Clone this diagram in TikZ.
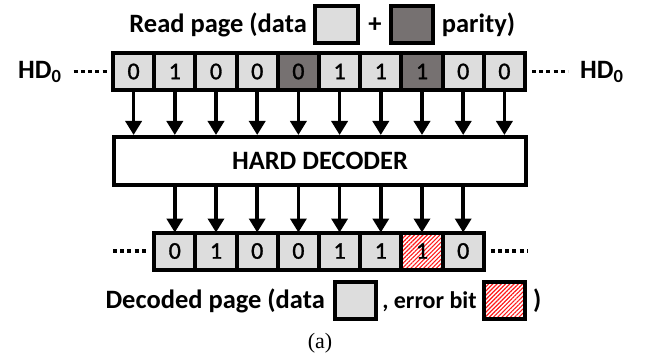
\documentclass[tikz,border=0pt]{standalone}
\usepackage{fontspec}
\setmainfont{Carlito}
\newfontfamily\capfont{Liberation Serif}
\newfontfamily\digitfont[FakeBold=1.2]{Carlito}
\usetikzlibrary{arrows.meta,patterns.meta}
\definecolor{datagray}{HTML}{DDDDDD}
\definecolor{paritygray}{HTML}{767171}
\definecolor{errred}{HTML}{FF1A1A}

\begin{document}
\begin{tikzpicture}[x=1pt,y=-1pt,
  bit/.style={draw, line width=4pt, minimum width=41.2pt, minimum height=37pt,
    inner sep=0pt, outer sep=0pt, font=\digitfont\fontsize{24}{24}\selectfont},
  databit/.style={bit, fill=datagray},
  paritybit/.style={bit, fill=paritygray},
  errbit/.style={bit, preaction={fill=white},
    pattern={Lines[angle=45,distance=3pt,line width=1.1pt]}, pattern color=errred},
  legbox/.style={draw, line width=4pt, inner sep=0pt, outer sep=0pt},
  label/.style={inner sep=0pt, font=\bfseries\fontsize{26.5}{26.5}\selectfont},
  arr/.style={line width=3.5pt, -{Triangle[width=16pt,length=14pt]}},
  dotline/.style={line width=3.5pt, dash pattern=on 4pt off 3.2pt}
]
\useasboundingbox (0,0) rectangle (646,361);

% title line with legend swatches
\node[label, anchor=base east] (rp) at (307,33) {Read page (data};
\node[legbox, fill=datagray, minimum width=43pt, minimum height=37pt] (ld) at (336.5,24.5) {};
\node[label, anchor=base] (plus) at (375,33) {+};
\node[legbox, fill=paritygray, minimum width=42pt, minimum height=37pt] (lp) at (412,24.5) {};
\node[label, anchor=base west] (par) at (441.7,33) {parity)};

% read page bits
\foreach \v/\s [count=\i from 0] in {0/databit,1/databit,0/databit,0/databit,0/paritybit,
    1/databit,1/databit,1/paritybit,0/databit,0/databit}
  \node[\s] (t\i) at (133.6+41.2*\i,71.5) {\v};

\node[label, anchor=base west] (hdl) at (18,78.5) {HD\textsubscript{0}};
\node[label, anchor=base west] (hdr) at (580,78.5) {HD\textsubscript{0}};
\draw[dotline, shorten <=12pt, shorten >=6pt] (hdl.east |- t0.west) -- (t0.west);
\draw[dotline, shorten <=7pt, shorten >=12pt] (t9.east) -- (hdr.west |- t9.east);

% decoder
\node[draw, line width=4pt, minimum width=412pt, minimum height=48pt,
  font=\bfseries\fontsize{26.5}{26.5}\selectfont] (dec) at (320,161) {HARD DECODER};

\foreach \i in {0,...,9}
  \draw[arr] (t\i.south) -- (t\i.south |- dec.north);

% decoded page bits
\foreach \v/\s [count=\i from 0] in {0/databit,1/databit,0/databit,0/databit,
    1/databit,1/databit,1/errbit,0/databit}
  \node[\s] (b\i) at (174.8+41.2*\i,251) {\v};

\foreach \i in {0,...,7}
  \draw[arr] (b\i.north |- dec.south) -- (b\i.north);

\coordinate (bl) at (113,251);
\coordinate (br) at (527,251);
\draw[dotline, shorten >=6pt] (bl) -- (b0.west);
\draw[dotline, shorten <=7pt] (b7.east) -- (br);

% bottom legend
\node[label, anchor=base east] (dp) at (325,308.5) {Decoded page (data};
\node[legbox, fill=datagray, minimum width=41pt, minimum height=37.6pt] (dd) at (355.2,300.5) {};
\node[label, font=\bfseries\fontsize{24}{24}\selectfont, anchor=base] (eb) at (429.5,308.5) {, error bit};
\node[legbox, preaction={fill=white},
  pattern={Lines[angle=45,distance=3pt,line width=1.1pt]}, pattern color=errred,
  minimum width=41pt, minimum height=37.6pt] (de) at (504.2,300.5) {};
\node[label, anchor=base west] (cp) at (533,308.5) {)};

\node[inner sep=0pt, font=\capfont\fontsize{22}{22}\selectfont] (cap) at (320,343) {(a)};
\end{tikzpicture}
\end{document}
